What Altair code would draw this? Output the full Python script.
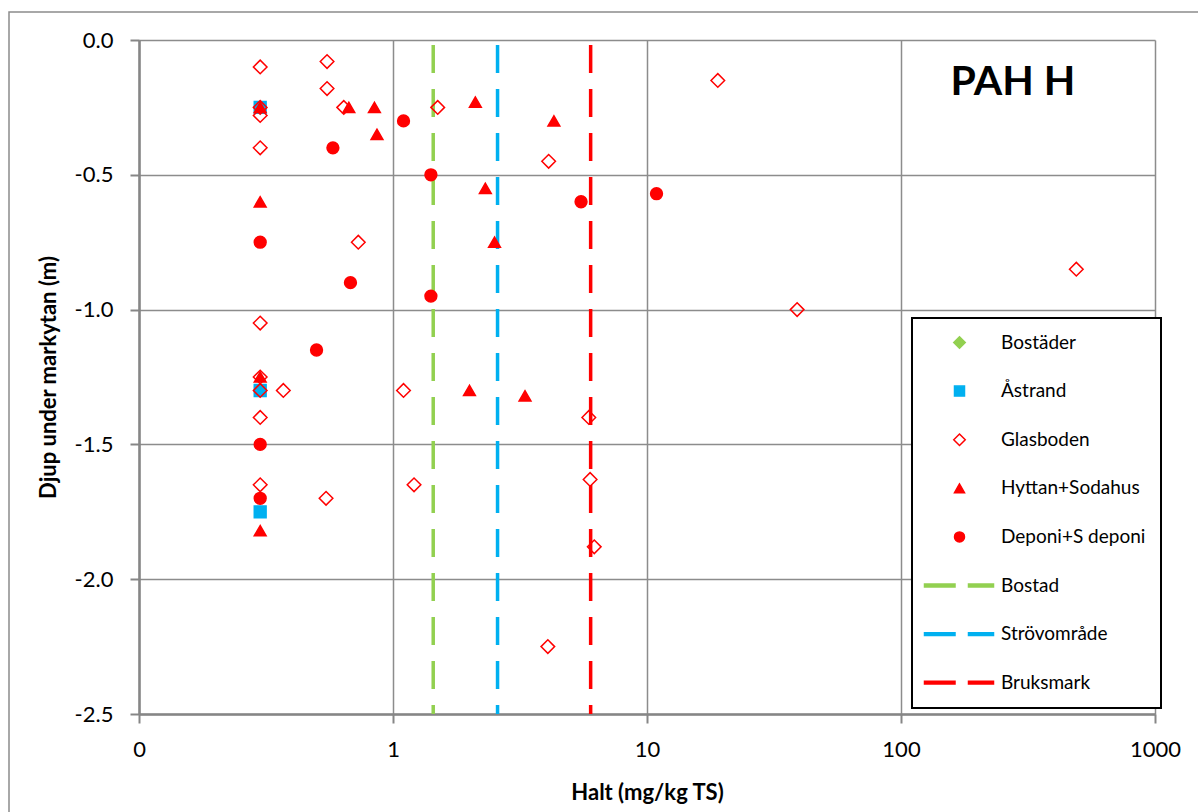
import altair as alt
import pandas as pd

# ---------------- data ----------------
SERIES = ["Bostäder", "Åstrand", "Glasboden", "Hyttan+Sodahus", "Deponi+S deponi",
          "Bostad", "Strövområde", "Bruksmark"]

bostader_x = []
bostader_y = []

astrand_x = [0.3, 0.3, 0.3]
astrand_y = [-0.25, -1.3, -1.75]

glasboden_x = [0.3, 0.55, 0.55, 0.3, 0.3, 0.64, 1.5, 0.3, 4.1, 19.0, 0.73, 0.3, 39.0, 490.0,
               0.3, 0.3, 0.37, 1.1, 0.3, 5.9, 0.3, 1.21, 0.545, 5.97, 6.2, 4.07]
glasboden_y = [-0.1, -0.08, -0.18, -0.25, -0.28, -0.25, -0.25, -0.4, -0.45, -0.15, -0.75, -1.05, -1.0, -0.85,
               -1.25, -1.3, -1.3, -1.3, -1.4, -1.4, -1.65, -1.65, -1.7, -1.63, -1.88, -2.25]

hyttan_x = [0.3, 0.67, 0.845, 2.11, 0.865, 4.3, 2.31, 0.3, 2.51, 0.3, 2.0, 3.31, 0.3]
hyttan_y = [-0.25, -0.25, -0.25, -0.23, -0.35, -0.3, -0.55, -0.6, -0.75, -1.25, -1.3, -1.32, -1.82]

deponi_x = [1.1, 0.58, 1.41, 5.5, 10.9, 0.3, 0.68, 1.41, 0.5, 0.3, 0.3]
deponi_y = [-0.3, -0.4, -0.5, -0.6, -0.57, -0.75, -0.9, -0.95, -1.15, -1.5, -1.7]

guide_names = ["Bostad", "Strövområde", "Bruksmark"]
guide_x = [1.44, 2.58, 6.0]

x_ticks = [0.1, 1, 10, 100, 1000]
y_ticks = [-2.5, -2.0, -1.5, -1.0, -0.5, 0.0]

GREEN = "#92D050"
BLUE = "#00B0F0"
RED = "#FF0000"

LINE_SYM = "M-7,-0.28H-0.9V0.28H-7Z M1.8,-0.28H6.8V0.28H1.8Z"
DIAMOND = "M-1.15,0L0,-1.15L1.15,0L0,1.15Z"

shape_range = [DIAMOND, "square", DIAMOND, "triangle-up", "circle", LINE_SYM, LINE_SYM, LINE_SYM]
fill_range = [GREEN, BLUE, "transparent", RED, RED, GREEN, BLUE, RED]
stroke_range = [GREEN, BLUE, RED, RED, RED, GREEN, BLUE, RED]

# ---------------- tables ----------------
rows = []
for name, xs, ys in [("Bostäder", bostader_x, bostader_y),
                     ("Åstrand", astrand_x, astrand_y),
                     ("Glasboden", glasboden_x, glasboden_y),
                     ("Hyttan+Sodahus", hyttan_x, hyttan_y),
                     ("Deponi+S deponi", deponi_x, deponi_y)]:
    for xv, yv in zip(xs, ys):
        rows.append({"halt": xv, "djup": yv, "serie": name})
points_df = pd.DataFrame(rows)
guides_df = pd.DataFrame({"halt": guide_x, "serie": guide_names})

FONT = "Lato"

x_scale = alt.Scale(type="log", domain=[0.1, 1000], nice=False)
y_scale = alt.Scale(domain=[-2.5, 0], nice=False, zero=False)

x_axis = alt.Axis(values=x_ticks, title="Halt (mg/kg TS)",
                  labelExpr="datum.value < 0.5 ? '0' : format(datum.value, 'd')",
                  labelFlush=False, labelOverlap=False, tickSize=9, labelPadding=16,
                  titlePadding=22, grid=True)
y_axis = alt.Axis(values=y_ticks, title="Djup under markytan (m)",
                  labelExpr="(datum.value < 0 ? '-' : '') + format(abs(datum.value), '.1f')",
                  labelOverlap=False, tickSize=9, labelPadding=17, titlePadding=14, grid=True)

stroke_scale = alt.Scale(domain=SERIES, range=stroke_range)
fill_scale = alt.Scale(domain=SERIES, range=fill_range)
shape_scale = alt.Scale(domain=SERIES, range=shape_range)

rules = alt.Chart(guides_df).mark_rule(strokeWidth=3.5, strokeDash=[28, 16], strokeDashOffset=-5).encode(
    x=alt.X("halt:Q", scale=x_scale, axis=x_axis),
    stroke=alt.Stroke("serie:N", scale=stroke_scale, title=None),
)

points = alt.Chart(points_df).mark_point(filled=True, size=140, strokeWidth=1.5, opacity=1).encode(
    x=alt.X("halt:Q", scale=x_scale, axis=x_axis),
    y=alt.Y("djup:Q", scale=y_scale, axis=y_axis),
    shape=alt.Shape("serie:N", scale=shape_scale, title=None),
    fill=alt.Fill("serie:N", scale=fill_scale, title=None),
    stroke=alt.Stroke("serie:N", scale=stroke_scale, title=None),
)

border = alt.Chart(pd.DataFrame({"a": [0]})).mark_rect(
    fill="transparent", stroke="#8c8c8c", strokeWidth=1.5).encode(
    x=alt.value(-130), x2=alt.value(1075), y=alt.value(-28), y2=alt.value(790))

title = alt.Chart(pd.DataFrame({"t": ["PAH H"]})).mark_text(
    font=FONT, fontSize=41, fontWeight="bold", color="black", align="center", baseline="alphabetic").encode(
    text="t:N", x=alt.value(874), y=alt.value(55))

chart = alt.layer(border, rules, points, title).properties(
    width=1016, height=674,
    padding={"left": 139, "top": 40, "right": 43, "bottom": 98},
    autosize=alt.AutoSizeParams(type="none"),
).configure_view(strokeWidth=0).configure_axis(
    domainColor="#868686", domainWidth=2.5, gridColor="#8c8c8c", gridWidth=1.5,
    tickColor="#868686", tickWidth=2,
    labelFont=FONT, labelFontSize=22, labelColor="black",
    titleFont=FONT, titleFontSize=22, titleFontWeight="bold", titleColor="black",
).configure_legend(
    orient="none", legendX=773, legendY=278, padding=15,
    strokeColor="black", fillColor="white", strokeWidth=2,
    labelFont=FONT, labelFontSize=19, labelColor="black",
    symbolSize=100, symbolStrokeWidth=1.5, symbolOpacity=1,
    symbolOffset=23, labelOffset=32, rowPadding=28.6,
)

chart.save("out.html", embed_options={"renderer": "svg", "actions": False})
